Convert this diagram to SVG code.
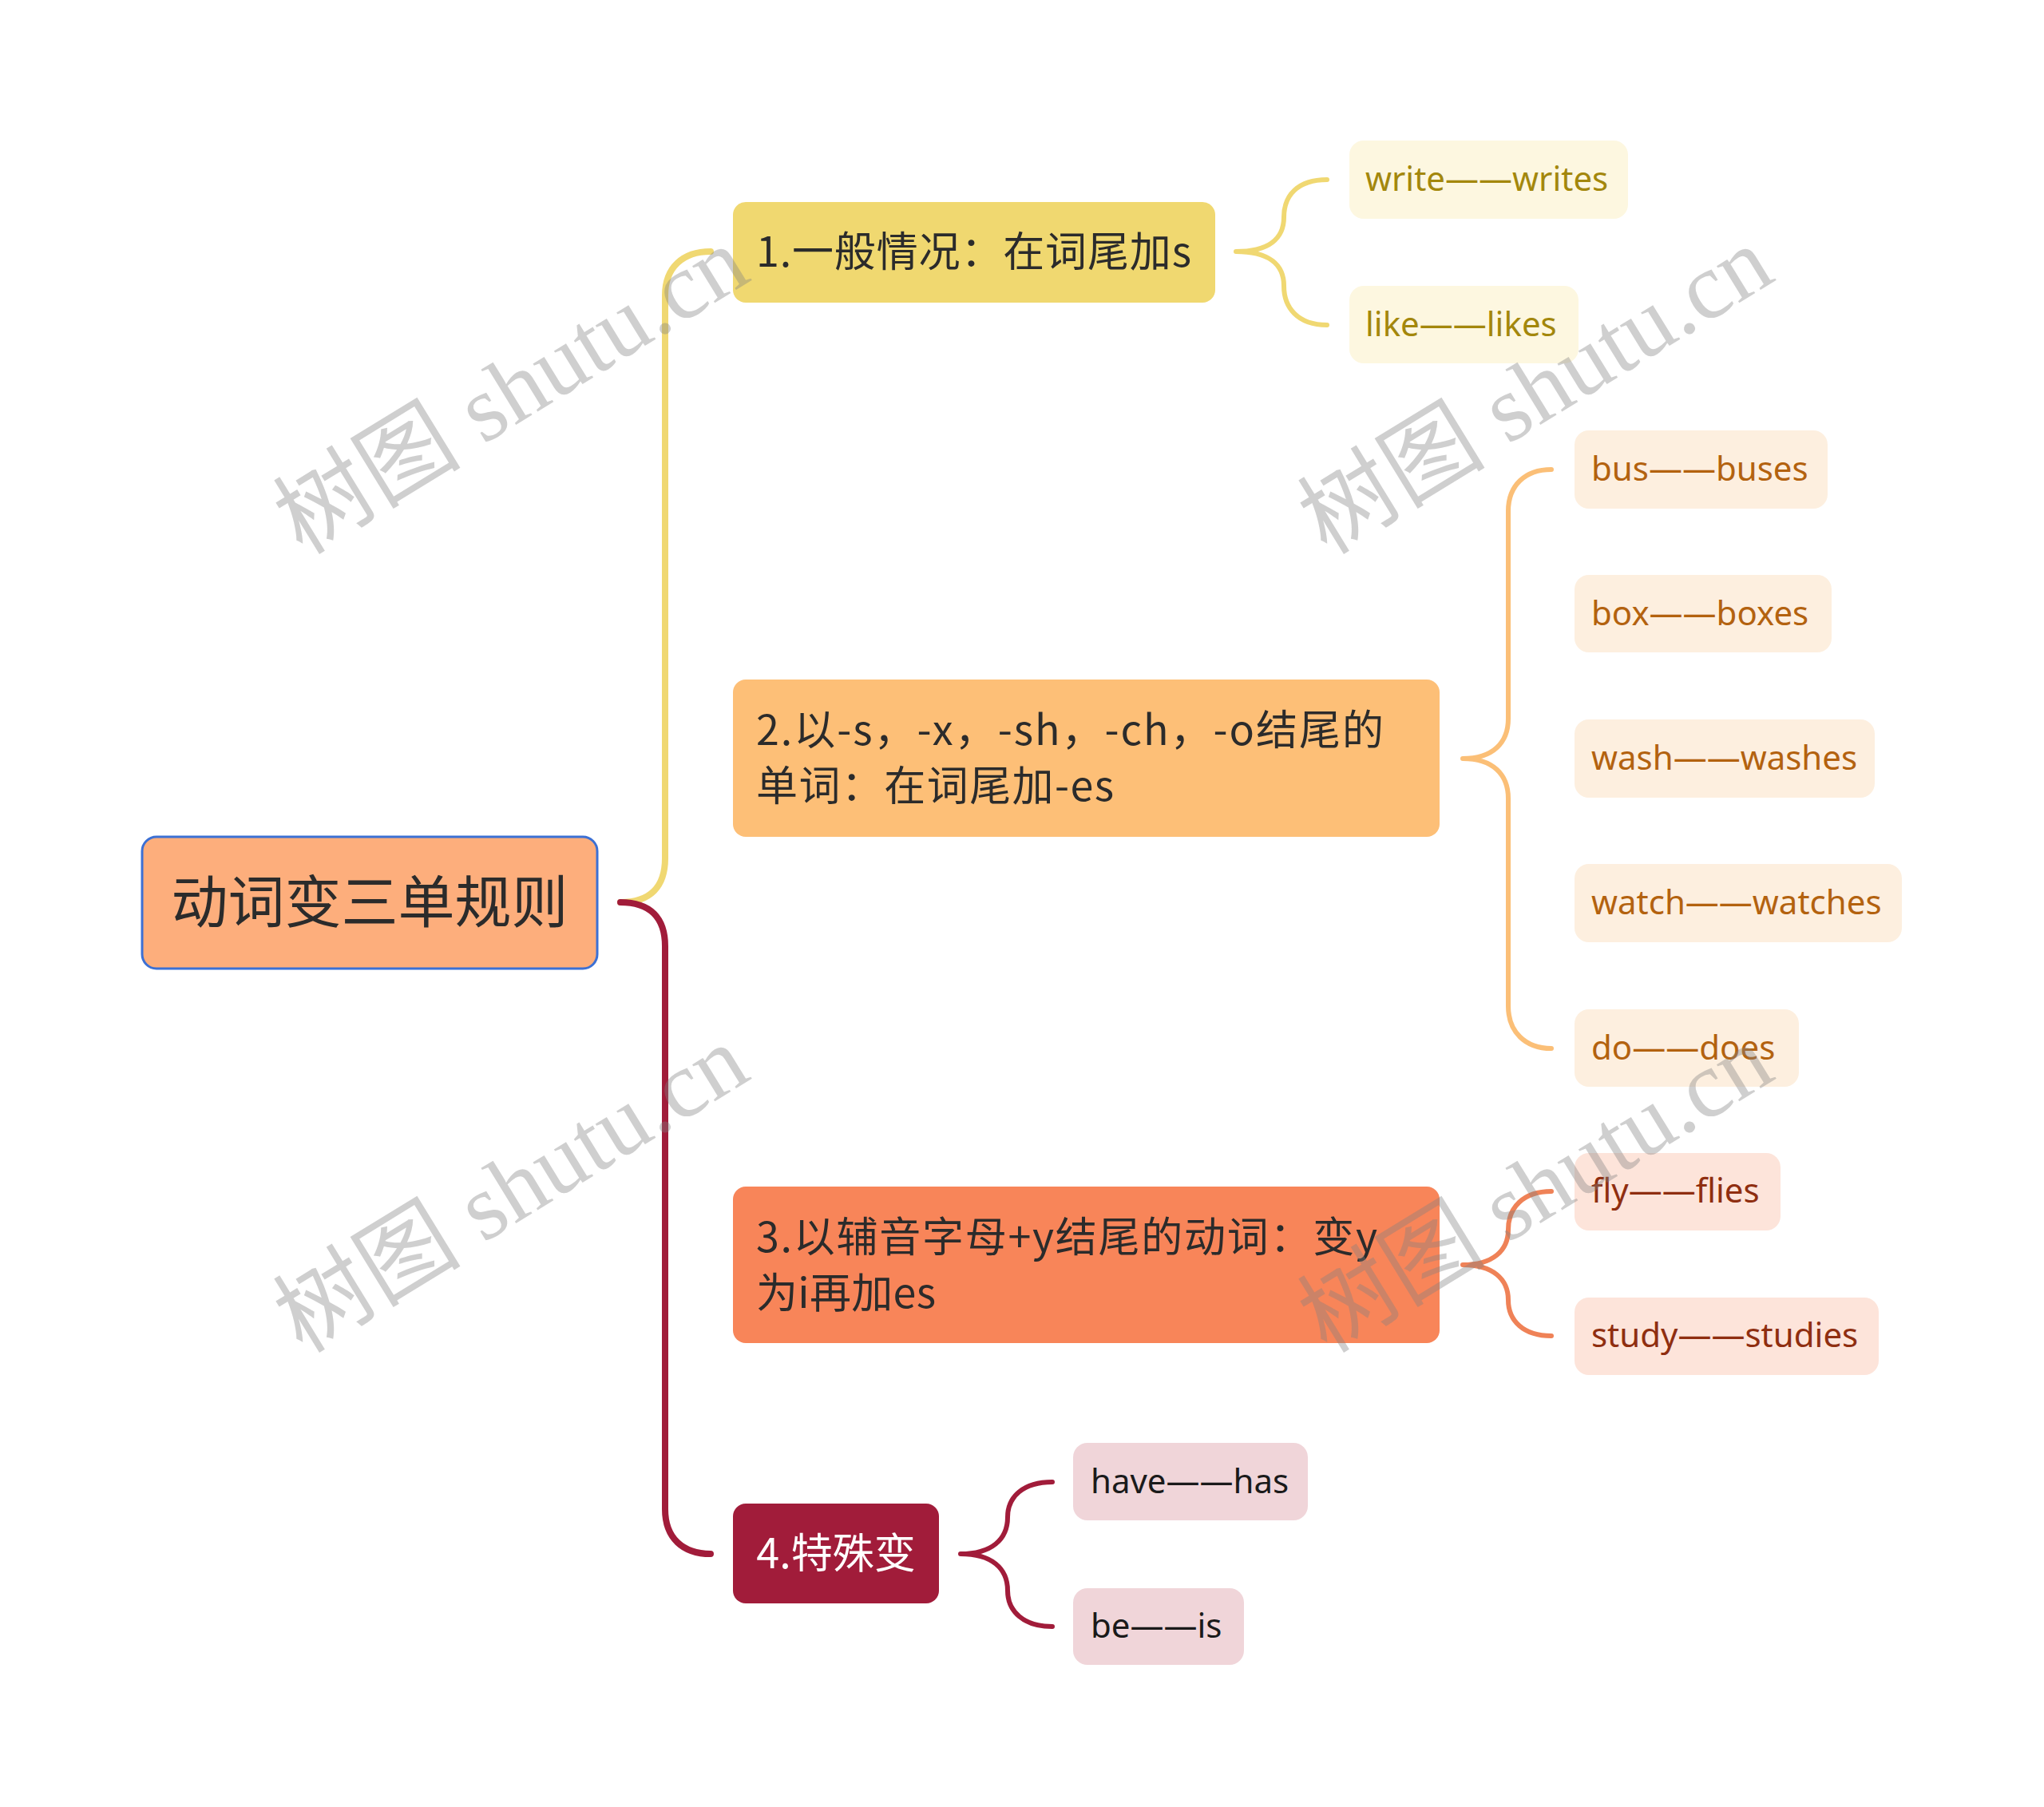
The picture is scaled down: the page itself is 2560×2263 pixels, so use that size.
<svg xmlns="http://www.w3.org/2000/svg" width="2560" height="2263" viewBox="0 0 2560 2263">
<style>
.cjk{font-family:"Noto Sans CJK SC","Noto Sans",sans-serif;}
.lf{font-family:"Noto Sans","Noto Sans CJK SC",sans-serif;font-size:42px;}
.ln{fill:none;stroke-linecap:round;}
.wm{font-family:"Liberation Serif","Noto Sans CJK SC",serif;font-size:118px;fill:#808080;fill-opacity:0.38;}
</style>
<rect width="2560" height="2263" fill="#ffffff"/>
<g id="connectors">
<path class="ln" stroke="#f0d872" stroke-width="8" d="M777,1130 C815,1130 833,1110 833,1075 L833,370 C833,335 855,315 890,315"/>
<path class="ln" stroke="#a11c3a" stroke-width="8" d="M777,1130 C815,1130 833,1150 833,1185 L833,1890 C833,1926 855,1946 890,1946"/>
<path class="ln" stroke="#f0d872" stroke-width="6" d="M1548,315 C1590,315 1608,298 1608,272 C1608,245 1625,225 1662,225 M1548,315 C1590,315 1608,332 1608,358 C1608,385 1625,407 1662,407"/>
<path class="ln" stroke="#fbbf77" stroke-width="6" d="M1832,950 C1870,950 1889,930 1889,900 L1889,640 C1889,608 1910,588 1943,588 M1832,950 C1870,950 1889,970 1889,1000 L1889,1260 C1889,1292 1910,1313 1943,1313"/>
<path class="ln" stroke="#ef8257" stroke-width="6" d="M1832,1584 C1870,1584 1889,1566 1889,1540 C1889,1512 1908,1492 1943,1492 M1832,1584 C1870,1584 1889,1602 1889,1628 C1889,1654 1908,1673 1943,1673"/>
<path class="ln" stroke="#a11c3a" stroke-width="6" d="M1203,1946 C1242,1946 1262,1928 1262,1900 C1262,1874 1282,1856 1318,1856 M1203,1946 C1242,1946 1262,1964 1262,1992 C1262,2018 1282,2037 1318,2037"/>
</g>
<g id="root">
<rect x="178" y="1048" width="570" height="165" rx="18" fill="#fdae7c" stroke="#3c70d4" stroke-width="3"/>
<text class="cjk" x="463" y="1155" font-size="71" fill="#2b2b2b" text-anchor="middle">动词变三单规则</text>
</g>
<g id="n1">
<rect x="918" y="253" width="604" height="126" rx="16" fill="#f0d870"/>
<text class="cjk" x="947" y="334" font-size="52" fill="#2b2b2b" textLength="545" lengthAdjust="spacing">1.一般情况：在词尾加s</text>
</g>
<g id="n2">
<rect x="918" y="851" width="885" height="197" rx="16" fill="#fdbf77"/>
<text class="cjk" x="947" y="933" font-size="52" fill="#2b2b2b" textLength="786" lengthAdjust="spacing">2.以-s，-x，-sh，-ch，-o结尾的</text>
<text class="cjk" x="947" y="1003" font-size="52" fill="#2b2b2b" textLength="448" lengthAdjust="spacing">单词：在词尾加-es</text>
</g>
<g id="n3">
<rect x="918" y="1486" width="885" height="196" rx="16" fill="#f88559"/>
<text class="cjk" x="947" y="1568" font-size="52" fill="#2b2b2b" textLength="778" lengthAdjust="spacing">3.以辅音字母+y结尾的动词：变y</text>
<text class="cjk" x="947" y="1638" font-size="52" fill="#2b2b2b" textLength="225" lengthAdjust="spacing">为i再加es</text>
</g>
<g id="n4">
<rect x="918" y="1883" width="258" height="125" rx="16" fill="#a11c3a"/>
<text class="cjk" x="1047" y="1964" font-size="52" fill="#ffffff" text-anchor="middle">4.特殊变</text>
</g>
<g id="l1"><rect x="1690" y="176" width="349" height="98" rx="18" fill="#fdf7e0"/><text class="lf" x="1710" y="239" fill="#a3870c">write——writes</text></g>
<g id="l2"><rect x="1690" y="358" width="287" height="97" rx="18" fill="#fdf7e0"/><text class="lf" x="1710" y="421" fill="#a3870c">like——likes</text></g>
<g id="l3"><rect x="1972" y="539" width="317" height="98" rx="18" fill="#fdefdf"/><text class="lf" x="1993" y="602" fill="#b3620f">bus——buses</text></g>
<g id="l4"><rect x="1972" y="720" width="322" height="97" rx="18" fill="#fdefdf"/><text class="lf" x="1993" y="783" fill="#b3620f">box——boxes</text></g>
<g id="l5"><rect x="1972" y="901" width="376" height="98" rx="18" fill="#fdefdf"/><text class="lf" x="1993" y="964" fill="#b3620f">wash——washes</text></g>
<g id="l6"><rect x="1972" y="1082" width="410" height="98" rx="18" fill="#fdefdf"/><text class="lf" x="1993" y="1145" fill="#b3620f">watch——watches</text></g>
<g id="l7"><rect x="1972" y="1264" width="281" height="97" rx="18" fill="#fdefdf"/><text class="lf" x="1993" y="1327" fill="#b3620f">do——does</text></g>
<g id="l8"><rect x="1972" y="1444" width="258" height="97" rx="18" fill="#fde4da"/><text class="lf" x="1993" y="1506" fill="#8f2e10">fly——flies</text></g>
<g id="l9"><rect x="1972" y="1625" width="381" height="97" rx="18" fill="#fde4da"/><text class="lf" x="1993" y="1687" fill="#8f2e10">study——studies</text></g>
<g id="l10"><rect x="1344" y="1807" width="294" height="97" rx="18" fill="#f0d5d9"/><text class="lf" x="1366" y="1870" fill="#1a1a1a">have——has</text></g>
<g id="l11"><rect x="1344" y="1989" width="214" height="96" rx="18" fill="#f0d5d9"/><text class="lf" x="1366" y="2051" fill="#1a1a1a">be——is</text></g>
<g id="watermarks">
<text class="wm" transform="translate(661,523) rotate(-31.5)" text-anchor="middle">树图 shutu.cn</text>
<text class="wm" transform="translate(1944,523) rotate(-31.5)" text-anchor="middle">树图 shutu.cn</text>
<text class="wm" transform="translate(661,1523) rotate(-31.5)" text-anchor="middle">树图 shutu.cn</text>
<text class="wm" transform="translate(1944,1523) rotate(-31.5)" text-anchor="middle">树图 shutu.cn</text>
</g>
</svg>
